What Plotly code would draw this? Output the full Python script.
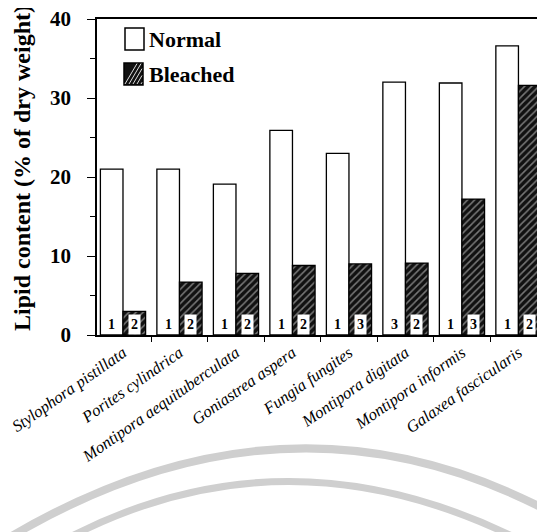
import plotly.graph_objects as go

species = ["Stylophora pistillata", "Porites cylindrica", "Montipora aequituberculata",
           "Goniastrea aspera", "Fungia fungites", "Montipora digitata",
           "Montipora informis", "Galaxea fascicularis"]
normal = [21.0, 21.0, 19.1, 25.9, 23.0, 32.0, 31.9, 36.6]
bleached = [3.0, 6.7, 7.8, 8.8, 9.0, 9.1, 17.2, 31.6]
n_normal = [1, 1, 1, 1, 1, 3, 1, 1]
n_bleached = [2, 2, 2, 2, 3, 2, 3, 2]
y_ticks = [0, 10, 20, 30, 40]
legend_labels = ["Normal", "Bleached"]

SERIF = "Liberation Serif, Times New Roman, serif"

# page geometry: the browser body has an 8px margin, so compensate
OFF = 8
PAGE_W, PAGE_H = 545, 532
W, H = PAGE_W - OFF, PAGE_H - OFF
# desired plot area in page pixels
PL, PT, PB = 97, 19, 335
L, T, B, R = PL - OFF, PT - OFF, PAGE_H - PB, 0
PW, PH = W - L - R, H - T - B


def px(x):  # page pixel -> paper x
    return (x - PL) / PW


def py(y):  # page pixel -> paper y
    return (PB - y) / PH


fig = go.Figure()
fig.add_trace(go.Bar(
    x=species, y=normal, name=legend_labels[0], showlegend=False,
    marker=dict(color="white", line=dict(color="black", width=1.3)),
))
fig.add_trace(go.Bar(
    x=species, y=bleached, name=legend_labels[1], showlegend=False,
    marker=dict(color="#111111", line=dict(color="black", width=1.3),
                pattern=dict(shape="/", fgcolor="#e0e0e0", bgcolor="#111111",
                             size=5, solidity=0.3, fillmode="overlay")),
))

annotations = []
for i in range(len(species)):
    annotations.append(dict(x=i - 0.2, y=1.3, xref="x", yref="y", text=f"<b>{n_normal[i]}</b>",
                            xanchor="center", yanchor="middle",
                            showarrow=False, font=dict(family=SERIF, size=14, color="black"),
                            bgcolor="white", borderpad=1))
    annotations.append(dict(x=i + 0.2, y=1.3, xref="x", yref="y", text=f"<b>{n_bleached[i]}</b>",
                            xanchor="center", yanchor="middle",
                            showarrow=False, font=dict(family=SERIF, size=14, color="black"),
                            bgcolor="white", borderpad=2))

# y-axis title
annotations.append(dict(x=px(22), y=py(168), xref="paper", yref="paper",
                        xanchor="center", yanchor="middle",
                        text="<b>Lipid content (% of dry weight)</b>", textangle=-90,
                        showarrow=False, font=dict(family=SERIF, size=24, color="black")))
# legend text
annotations.append(dict(x=px(147), y=py(39), xref="paper", yref="paper",
                        xanchor="left", yanchor="middle",
                        text=f"<b>{legend_labels[0]}</b>", showarrow=False,
                        font=dict(family=SERIF, size=22, color="black")))
annotations.append(dict(x=px(147), y=py(74), xref="paper", yref="paper",
                        xanchor="left", yanchor="middle",
                        text=f"<b>{legend_labels[1]}</b>", showarrow=False,
                        font=dict(family=SERIF, size=22, color="black")))

shapes = [
    dict(type="rect", xref="paper", yref="paper", x0=px(125), x1=px(144), y0=py(28), y1=py(50),
         line=dict(color="black", width=1.5), fillcolor="white"),
    dict(type="rect", xref="paper", yref="paper", x0=px(124), x1=px(143), y0=py(63), y1=py(85),
         line=dict(color="black", width=1.5), fillcolor="#111111"),
]
for k in range(5):
    x0 = 125 + k * 4
    x1 = min(x0 + 12, 142)
    shapes.append(dict(type="line", xref="paper", yref="paper",
                       x0=px(x0), y0=py(84), x1=px(x1), y1=py(84 - (x1 - x0) * 1.7),
                       line=dict(color="#dddddd", width=1)))

# faint watermark arcs from the scan
shapes.append(dict(type="path", xref="paper", yref="paper", layer="below",
                   path=f"M {px(5)},{py(540)} Q {px(285)},{py(372)} {px(550)},{py(512)}",
                   line=dict(color="#cfcfcf", width=8)))
shapes.append(dict(type="path", xref="paper", yref="paper", layer="below",
                   path=f"M {px(55)},{py(545)} Q {px(285)},{py(418)} {px(530)},{py(545)}",
                   line=dict(color="#cfcfcf", width=7)))

fig.update_layout(
    width=W, height=H,
    margin=dict(l=L, r=R, t=T, b=B, autoexpand=False),
    paper_bgcolor="white", plot_bgcolor="rgba(0,0,0,0)",
    barmode="group", bargap=0.2, bargroupgap=0,
    showlegend=False,
    annotations=annotations, shapes=shapes,
    font=dict(family=SERIF, color="black"),
)
fig.update_xaxes(
    range=[-0.46, 7.47],
    showline=True, linecolor="black", linewidth=1.5, mirror=True,
    ticks="outside", tickson="boundaries", ticklen=5, tickcolor="black",
    tickangle=-35, automargin=False,
    tickfont=dict(family=SERIF, size=16.5, color="black", style="italic"),
    showgrid=False,
)
fig.update_yaxes(
    range=[0, 40], tickvals=y_ticks, automargin=False, ticklabeloverflow="allow",
    showline=True, linecolor="black", linewidth=1.5,
    ticks="outside", ticklen=8, tickcolor="black", ticklabelstandoff=12,
    minor=dict(ticks="outside", dtick=5, ticklen=5, tickcolor="black"),
    tickfont=dict(family=SERIF, size=21, color="black", weight="bold"),
    showgrid=False, zeroline=False,
)

fig.write_html("out.html")
